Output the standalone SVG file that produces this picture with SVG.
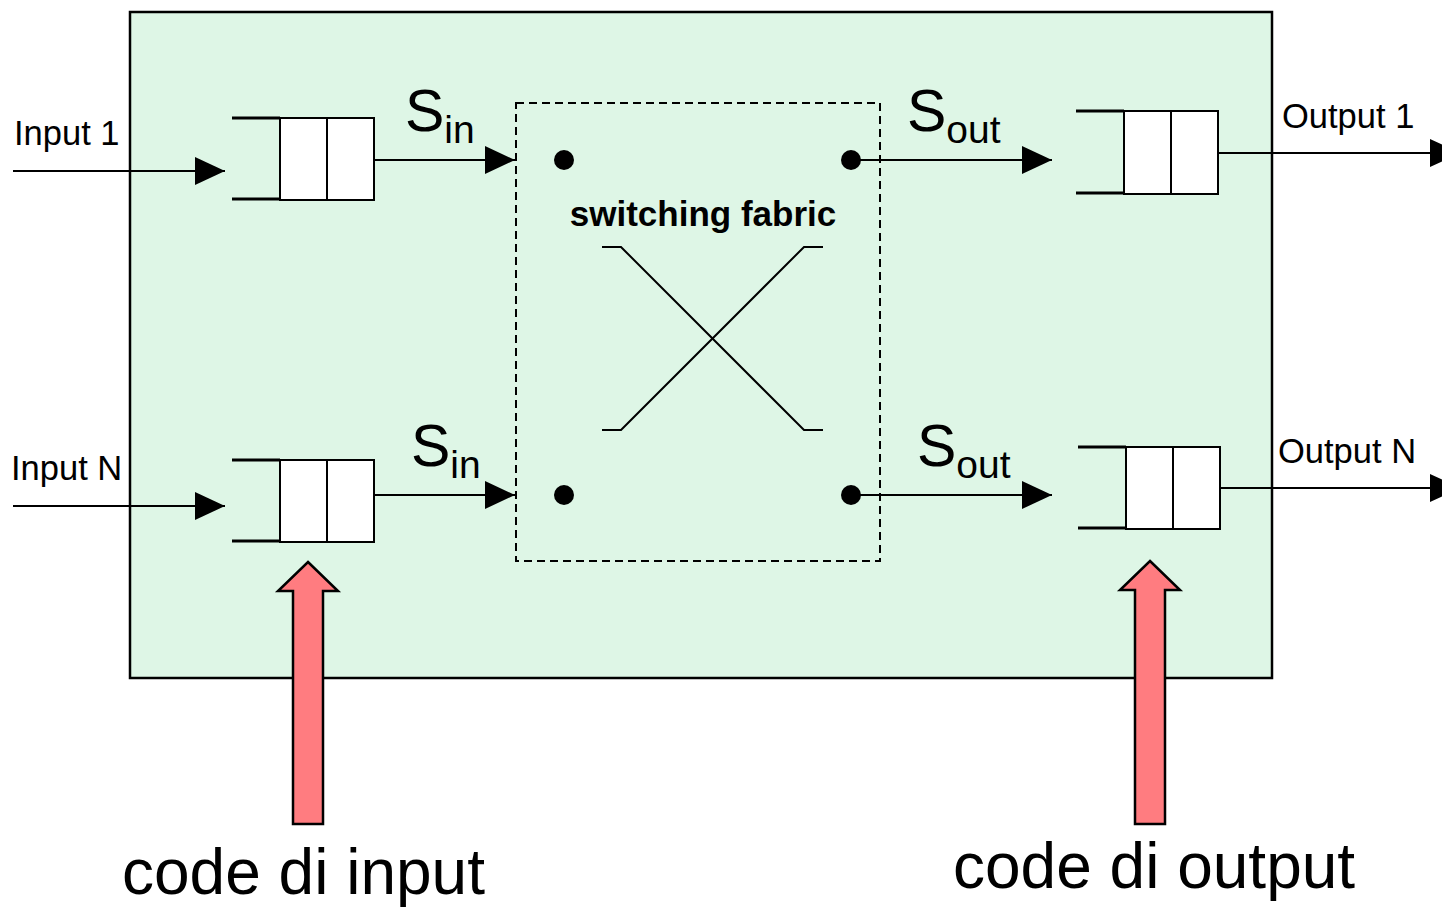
<svg xmlns="http://www.w3.org/2000/svg" width="1442" height="907" viewBox="0 0 1442 907">
<defs>
<style>
.ln{stroke:#000;stroke-width:2;fill:none}
.qline{stroke:#000;stroke-width:3;fill:none}
.qbox{fill:#fff;stroke:#000;stroke-width:2}
.t{font-family:"Liberation Sans",Arial,sans-serif;fill:#000}
.big{font-size:59px}
.sub{font-size:39px}
.lab{font-size:34.5px}
.code{font-size:64px}
.red{fill:#FF7C80;stroke:#000;stroke-width:2.5;stroke-linejoin:miter}
.dot{fill:#000}
</style>
<marker id="ah" viewBox="0 0 30 28" refX="30" refY="14" markerWidth="30" markerHeight="28" markerUnits="userSpaceOnUse" orient="auto">
<path d="M0,0 L30,14 L0,28 Z" fill="#000"/>
</marker>
</defs>
<rect width="1442" height="907" fill="#fff"/>
<g id="router">
<rect x="130" y="12" width="1142" height="666" fill="#DEF6E6" stroke="#000" stroke-width="2.5"/>
</g>
<g id="fabric">
<rect x="516" y="103" width="364" height="458" fill="none" stroke="#000" stroke-width="2" stroke-dasharray="8,5"/>
<text class="t" x="703" y="226" text-anchor="middle" font-size="35" font-weight="bold">switching fabric</text>
<polyline class="ln" points="602,247 621,247 804,430 823,430"/>
<polyline class="ln" points="823,247 804,247 621,430 602,430"/>
<circle class="dot" cx="564" cy="160" r="10"/>
<circle class="dot" cx="564" cy="495" r="10"/>
<circle class="dot" cx="851" cy="160" r="10"/>
<circle class="dot" cx="851" cy="495" r="10"/>
</g>
<g id="inqueue1">
<line class="qline" x1="232" y1="118" x2="280" y2="118"/>
<line class="qline" x1="232" y1="199" x2="280" y2="199"/>
<rect class="qbox" x="280" y="118" width="47" height="82"/>
<rect class="qbox" x="327" y="118" width="47" height="82"/>
</g>
<g id="inqueueN">
<line class="qline" x1="232" y1="460" x2="280" y2="460"/>
<line class="qline" x1="232" y1="541" x2="280" y2="541"/>
<rect class="qbox" x="280" y="460" width="47" height="82"/>
<rect class="qbox" x="327" y="460" width="47" height="82"/>
</g>
<g id="outqueue1">
<line class="qline" x1="1076" y1="111" x2="1124" y2="111"/>
<line class="qline" x1="1076" y1="193" x2="1124" y2="193"/>
<rect class="qbox" x="1124" y="111" width="47" height="83"/>
<rect class="qbox" x="1171" y="111" width="47" height="83"/>
</g>
<g id="outqueueN">
<line class="qline" x1="1078" y1="447" x2="1126" y2="447"/>
<line class="qline" x1="1078" y1="528" x2="1126" y2="528"/>
<rect class="qbox" x="1126" y="447" width="47" height="82"/>
<rect class="qbox" x="1173" y="447" width="47" height="82"/>
</g>
<g id="connectors">
<line class="ln" x1="13" y1="171" x2="225" y2="171" marker-end="url(#ah)"/>
<line class="ln" x1="13" y1="506" x2="225" y2="506" marker-end="url(#ah)"/>
<line class="ln" x1="374" y1="160" x2="515" y2="160" marker-end="url(#ah)"/>
<line class="ln" x1="374" y1="495" x2="515" y2="495" marker-end="url(#ah)"/>
<line class="ln" x1="851" y1="160" x2="1052" y2="160" marker-end="url(#ah)"/>
<line class="ln" x1="851" y1="495" x2="1052" y2="495" marker-end="url(#ah)"/>
<line class="ln" x1="1218" y1="153" x2="1460" y2="153" marker-end="url(#ah)"/>
<line class="ln" x1="1220" y1="488" x2="1460" y2="488" marker-end="url(#ah)"/>
</g>
<g id="labels">
<text class="t lab" x="14" y="145">Input 1</text>
<text class="t lab" x="11" y="480">Input N</text>
<text class="t lab" x="1282" y="128">Output 1</text>
<text class="t lab" x="1278" y="463">Output N</text>
<text class="t big" x="405" y="131">S<tspan class="sub" dy="12">in</tspan></text>
<text class="t big" x="411" y="466">S<tspan class="sub" dy="12">in</tspan></text>
<text class="t big" x="907" y="131">S<tspan class="sub" dy="12">out</tspan></text>
<text class="t big" x="917" y="466">S<tspan class="sub" dy="12">out</tspan></text>
</g>
<g id="arrowInput">
<path class="red" d="M308,562 L338,591 L323,591 L323,824 L293,824 L293,591 L278,591 Z"/>
<text class="t code" x="122" y="894">code di input</text>
</g>
<g id="arrowOutput">
<path class="red" d="M1150,561 L1180,590 L1165,590 L1165,824 L1135,824 L1135,590 L1120,590 Z"/>
<text class="t code" x="953" y="888">code di output</text>
</g>
</svg>
